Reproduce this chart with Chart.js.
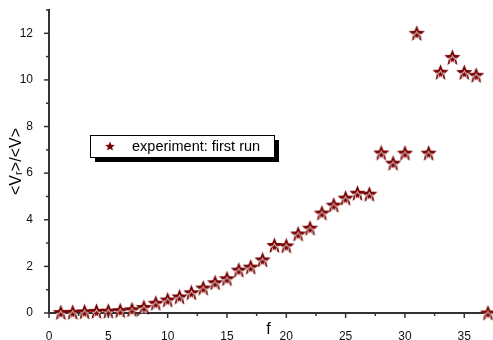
<!DOCTYPE html>
<html>
<head>
<meta charset="utf-8">
<script src="https://cdn.jsdelivr.net/npm/chart.js@4.4.1/dist/chart.umd.min.js"></script>
<style>
  html, body { margin: 0; padding: 0; background: #fff; }
  #wrap { width: 493px; height: 340px; position: relative; }
</style>
</head>
<body>
<div id="wrap"><canvas id="chart"></canvas></div>
<script>
// data
const fValues = [1, 2, 3, 4, 5, 6, 7, 8, 9, 10, 11, 12, 13, 14, 15, 16, 17, 18, 19, 20,
                 21, 22, 23, 24, 25, 26, 27, 28, 29, 30, 31, 32, 33, 34, 35, 36, 37];
const ratioValues = [0.02, 0.03, 0.05, 0.07, 0.08, 0.1, 0.14, 0.24, 0.42, 0.56, 0.69, 0.87, 1.07, 1.3, 1.47, 1.84, 1.97, 2.28, 2.9, 2.88,
                     3.39, 3.64, 4.29, 4.63, 4.93, 5.14, 5.1, 6.87, 6.43, 6.86, 12.0, 6.86, 10.33, 10.97, 10.32, 10.2, 0];
const xTicks = [0, 5, 10, 15, 20, 25, 30, 35];
const yTicks = [0, 2, 4, 6, 8, 10, 12];
const seriesLabel = 'experiment: first run';

const DARK_RED = '#780000';
const AXIS = '#333';
const FONT = '"Liberation Sans", Arial, sans-serif';

function starPath(ctx, cx, cy, r) {
    const inner = r * 0.45;
    ctx.beginPath();
    for (let i = 0; i < 10; i++) {
        const rad = i % 2 === 0 ? r : inner;
        const a = -Math.PI / 2 + i * Math.PI / 5;
        const x = cx + rad * Math.cos(a);
        const y = cy + rad * Math.sin(a);
        if (i === 0) ctx.moveTo(x, y); else ctx.lineTo(x, y);
    }
    ctx.closePath();
}

// star marker: filled, with a thin white hollow star in the lower half
function makeStar(size, withInner) {
    const c = document.createElement('canvas');
    c.width = size; c.height = size;
    const g = c.getContext('2d');
    const r = size / 2;
    starPath(g, r, r + 0.5, r);
    g.fillStyle = DARK_RED;
    g.fill();
    if (withInner) {
        starPath(g, r, r + 2.2, r * 0.5);
        g.strokeStyle = '#fff';
        g.lineWidth = 0.8;
        g.stroke();
    }
    return c;
}
const bigStar = makeStar(17, true);
const smallStar = makeStar(10, false);

// minor / major tick marks
const tickPlugin = {
    id: 'ticks',
    afterDraw(chart) {
        const ctx = chart.ctx;
        const xs = chart.scales.x, ys = chart.scales.y;
        const area = chart.chartArea;
        ctx.save();
        ctx.strokeStyle = AXIS;
        ctx.lineWidth = 1.5;
        for (let v = 0; v <= 37; v += 2.5) {
            const px = xs.getPixelForValue(v);
            const len = v % 5 === 0 ? 5 : 3;
            ctx.beginPath();
            ctx.moveTo(px, area.bottom);
            ctx.lineTo(px, area.bottom + len);
            ctx.stroke();
        }
        for (let v = 0; v <= 13; v += 1) {
            const py = ys.getPixelForValue(v);
            const len = v % 2 === 0 ? 5 : 3;
            ctx.beginPath();
            ctx.moveTo(area.left, py);
            ctx.lineTo(area.left - len, py);
            ctx.stroke();
        }
        ctx.restore();
    }
};

// boxed legend with drop shadow
const legendPlugin = {
    id: 'boxLegend',
    afterDraw(chart) {
        const ctx = chart.ctx;
        const x = 90, y = 135, w = 184, h = 22;
        ctx.save();
        ctx.fillStyle = '#000';
        ctx.fillRect(x + 5, y + 5, w, h);
        ctx.fillStyle = '#fff';
        ctx.fillRect(x, y, w, h);
        ctx.strokeStyle = '#000';
        ctx.lineWidth = 1;
        ctx.strokeRect(x + 0.5, y + 0.5, w, h);
        ctx.drawImage(smallStar, x + 15, y + 6);
        ctx.fillStyle = '#000';
        ctx.font = '14.5px ' + FONT;
        ctx.textBaseline = 'middle';
        ctx.fillText(chart.data.datasets[0].label, x + 42, y + h / 2 + 1);
        ctx.restore();
    }
};

const points = fValues.map((f, i) => ({ x: f, y: ratioValues[i] }));

new Chart(document.getElementById('chart'), {
    type: 'scatter',
    data: {
        datasets: [{
            label: seriesLabel,
            data: points,
            pointStyle: bigStar,
            clip: false
        }]
    },
    options: {
        responsive: true,
        maintainAspectRatio: false,
        animation: false,
        layout: { padding: { top: 10, right: 0, left: 0, bottom: 0 } },
        plugins: {
            legend: { display: false },
            tooltip: { enabled: false }
        },
        scales: {
            x: {
                type: 'linear',
                min: 0,
                max: 37,
                afterBuildTicks: s => { s.ticks = xTicks.map(v => ({ value: v })); },
                afterFit: s => { s.height = 27; s.paddingLeft = 0; s.paddingRight = 0; },
                grid: { display: false },
                border: { display: true, color: AXIS, width: 2 },
                ticks: {
                    padding: 8,
                    maxRotation: 0,
                    color: '#111',
                    font: { family: FONT, size: 12 }
                },
                title: {
                    display: true,
                    text: 'f',
                    color: '#000',
                    padding: { top: 0, bottom: 1 },
                    font: { family: FONT, size: 16 }
                }
            },
            y: {
                type: 'linear',
                min: 0,
                max: 13,
                afterBuildTicks: s => { s.ticks = yTicks.map(v => ({ value: v })); },
                afterFit: s => { s.width = 49; s.paddingTop = 0; s.paddingBottom = 0; },
                grid: { display: false },
                border: { display: true, color: AXIS, width: 2 },
                ticks: {
                    padding: 8,
                    color: '#111',
                    font: { family: FONT, size: 12 }
                },
                title: {
                    display: true,
                    text: '<Vᵣ>/<V>',
                    color: '#000',
                    padding: { top: 7, bottom: 0 },
                    font: { family: '"Liberation Sans", "DejaVu Sans", Arial, sans-serif', size: 16 }
                }
            }
        }
    },
    plugins: [tickPlugin, legendPlugin]
});
</script>
</body>
</html>
